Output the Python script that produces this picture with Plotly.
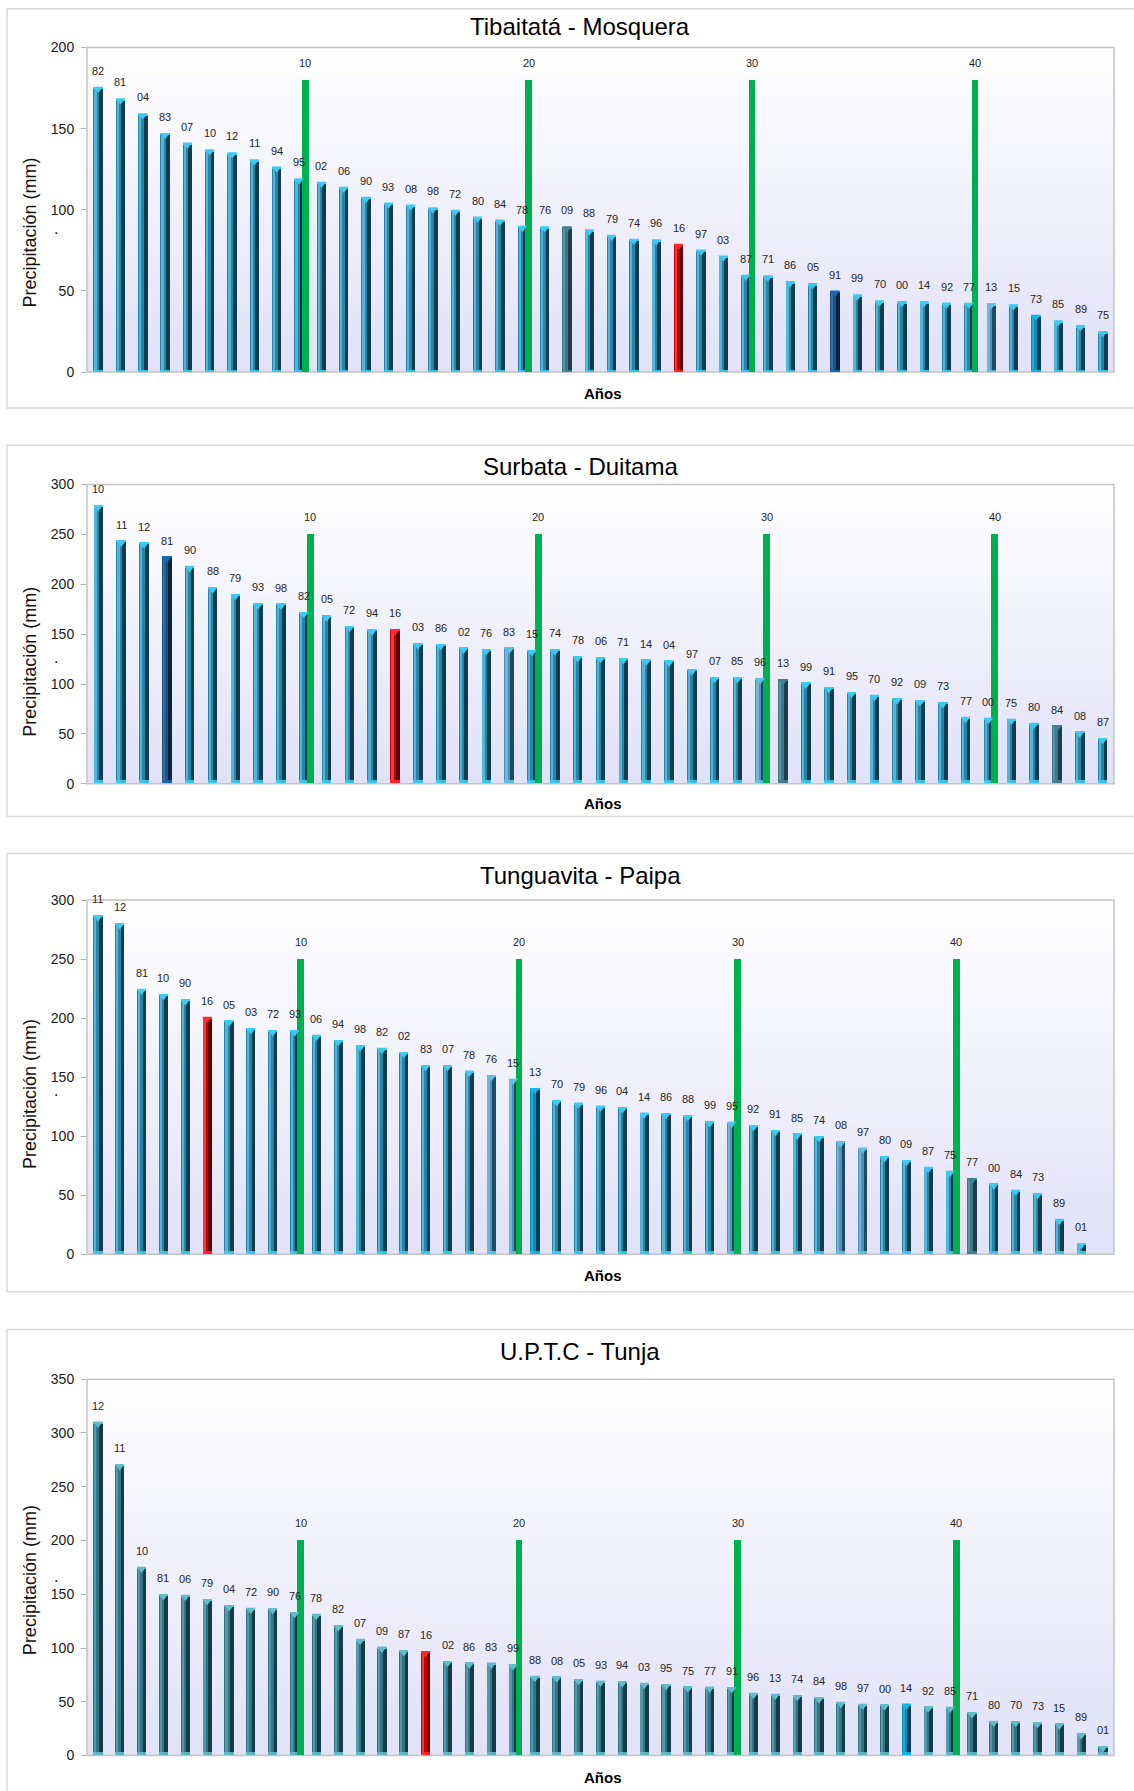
import plotly.graph_objects as go

FIG_W, FIG_H = 1134, 1791

# ---------------- data: years ranked by precipitation (mm) ----------------
tib_years = ["82", "81", "04", "83", "07", "10", "12", "11", "94", "95", "02", "06",
             "90", "93", "08", "98", "72", "80", "84", "78", "76", "09", "88", "79",
             "74", "96", "16", "97", "03", "87", "71", "86", "05", "91", "99", "70",
             "00", "14", "92", "77", "13", "15", "73", "85", "89", "75"]
tib_mm = [175.8, 168.6, 159.4, 147.3, 141.4, 137.2, 135.4, 131.1, 126.6, 119.4,
          117.2, 114.1, 107.9, 104.4, 103.2, 101.5, 99.9, 95.8, 94.0, 90.1,
          89.8, 89.7, 88.0, 84.5, 82.1, 81.8, 79.0, 75.5, 71.8, 59.9,
          59.5, 56.0, 54.8, 50.1, 47.8, 44.1, 43.7, 43.7, 42.8, 42.6,
          42.4, 41.7, 35.3, 31.8, 28.9, 25.2]

sur_years = ["10", "11", "12", "81", "90", "88", "79", "93", "98", "82", "05", "72",
             "94", "16", "03", "86", "02", "76", "83", "15", "74", "78", "06", "71",
             "14", "04", "97", "07", "85", "96", "13", "99", "91", "95", "70", "92",
             "09", "73", "77", "00", "75", "80", "84", "08", "87"]
sur_mm = [279.3, 243.7, 241.7, 227.7, 218.3, 196.7, 190.0, 181.0, 180.3, 172.0,
          168.7, 158.0, 154.7, 154.7, 140.7, 140.0, 136.3, 135.0, 136.3, 134.0,
          134.7, 128.0, 127.0, 125.7, 124.3, 123.3, 114.3, 107.0, 106.7, 106.0,
          105.0, 101.3, 97.0, 92.0, 89.0, 85.7, 83.7, 81.7, 67.0, 66.0,
          65.0, 61.0, 58.3, 52.3, 45.7]

tun_years = ["11", "12", "81", "10", "90", "16", "05", "03", "72", "93", "06", "94",
             "98", "82", "02", "83", "07", "78", "76", "15", "13", "70", "79", "96",
             "04", "14", "86", "88", "99", "95", "92", "91", "85", "74", "08", "97",
             "80", "09", "87", "75", "77", "00", "84", "73", "89", "01"]
tun_mm = [287.0, 280.3, 224.8, 220.3, 215.8, 201.1, 198.0, 191.3, 189.9, 189.6,
          185.9, 181.4, 176.9, 174.9, 171.3, 160.3, 160.2, 155.5, 151.5, 148.5,
          140.8, 130.4, 128.5, 125.9, 124.5, 120.0, 119.7, 118.0, 112.7, 112.1,
          109.3, 105.1, 102.3, 100.0, 95.8, 90.4, 83.1, 79.7, 74.1, 70.7,
          64.5, 60.0, 54.6, 51.8, 30.1, 9.6]

upt_years = ["12", "11", "10", "81", "06", "79", "04", "72", "90", "76", "78", "82",
             "07", "09", "87", "16", "02", "86", "83", "99", "88", "08", "05", "93",
             "94", "03", "95", "75", "77", "91", "96", "13", "74", "84", "98", "97",
             "00", "14", "92", "85", "71", "80", "70", "73", "15", "89", "01"]
upt_mm = [310.4, 270.8, 175.5, 150.1, 149.5, 145.5, 139.6, 137.4, 136.8, 133.4,
          131.8, 121.0, 108.6, 101.2, 97.8, 97.2, 87.9, 86.4, 86.3, 84.8,
          74.0, 73.4, 70.9, 69.6, 69.0, 67.5, 66.2, 64.1, 64.0, 63.4,
          58.2, 57.3, 56.3, 54.2, 49.8, 48.0, 47.4, 48.2, 45.5, 45.2,
          40.2, 32.2, 32.1, 30.9, 29.7, 20.7, 8.7]

# rank markers (every tenth position)
rank_pos = [10, 20, 30, 40]
rank_labels = ["10", "20", "30", "40"]

# ---------------- bar tones ----------------
TONES = {
    "std":    dict(mid="#2585a6", light="#52b6d8", dark="#103c4d", cap="#3ccbf0"),
    "std4":   dict(mid="#307486", light="#5299ab", dark="#143b46", cap="#63bccd"),
    "red":    dict(mid="#c80000", light="#e84040", dark="#600000", cap="#ff2a2a"),
    "navy":   dict(mid="#1d5284", light="#3270a5", dark="#0b2338", cap="#1668b8"),
    "slate":  dict(mid="#3d7888", light="#5895a6", dark="#1c3e48", cap="#428090"),
    "steel":  dict(mid="#4d92b8", light="#72b5d6", dark="#1f4a63", cap="#5fc0e6"),
    "bright": dict(mid="#0a8cb4", light="#20acd6", dark="#003c52", cap="#14b8e8"),
}

# pixel layout of each chart block
panels = [
    dict(title="Tibaitatá - Mosquera", years=tib_years, mm=tib_mm, ymax=200, slots=46,
         mark_h=180, top=39.9, bottom=367.3, box=(0.8, 403.5), title_y=18.5, anos_y=388.7,
         ytitle_y=226.6, base="std",
         tone={"09": "slate", "16": "red", "91": "navy", "13": "steel", "73": "bright"}),
    dict(title="Surbata - Duitama", years=sur_years, mm=sur_mm, ymax=300, slots=45,
         mark_h=250, top=480.7, bottom=782.8, box=(441.1, 815.8), title_y=462.3,
         anos_y=802.7, ytitle_y=659.7, base="std",
         tone={"81": "navy", "16": "red", "83": "steel", "96": "steel", "13": "slate",
               "84": "slate"}),
    dict(title="Tunguavita - Paipa", years=tun_years, mm=tun_mm, ymax=300, slots=47,
         mark_h=250, top=900.1, bottom=1257.6, box=(853.1, 1295.2), title_y=875.2,
         anos_y=1279.1, ytitle_y=1095.8, base="std",
         tone={"16": "red", "76": "steel", "15": "steel", "13": "bright", "95": "steel",
               "08": "steel", "97": "steel", "77": "slate"}),
    dict(title="U.P.T.C - Tunja", years=upt_years, mm=upt_mm, ymax=350, slots=47,
         mark_h=200, top=1383.5, bottom=1763.3, box=(1333.5, 1820), title_y=1355.6,
         anos_y=1785.2, ytitle_y=1586.3, base="std4",
         tone={"16": "red", "14": "bright"}),
]

PLOT_L, PLOT_R = 87, 1114
FONT = "Liberation Sans, Arial, sans-serif"
BAR_W = 0.42
MARK_W = 0.30
MARK_OFF = 0.13


def py(px):
    """pixel row -> paper y"""
    return 1 - px / FIG_H


def px_x(px):
    """pixel column -> paper x"""
    return px / FIG_W


fig = go.Figure()
shapes = []
annotations = []
layout_axes = {}

for k, p in enumerate(panels):
    sfx = "" if k == 0 else str(k + 1)
    xa, ya = "x" + sfx, "y" + sfx
    n = len(p["years"])
    xs = list(range(1, n + 1))
    upp = p["ymax"] / (p["bottom"] - p["top"])  # data units per pixel

    tones = [TONES[p["tone"].get(y, p["base"])] for y in p["years"]]
    mids = [t["mid"] for t in tones]
    lights = [t["light"] for t in tones]
    darks = [t["dark"] for t in tones]
    caps = [t["cap"] for t in tones]

    common = dict(xaxis=xa, yaxis=ya, showlegend=False, hoverinfo="skip")
    # body of each column
    fig.add_trace(go.Bar(x=xs, y=p["mm"], width=BAR_W, marker=dict(color=mids, line_width=0),
                         customdata=p["years"], **common))
    # highlight stripe on the left face
    fig.add_trace(go.Bar(x=xs, y=p["mm"], width=0.08, offset=-0.15,
                         marker=dict(color=lights, line_width=0), **common))
    # shaded right face
    fig.add_trace(go.Bar(x=xs, y=p["mm"], width=0.17, offset=0.04,
                         marker=dict(color=darks, line_width=0), **common))
    # bevelled top
    fig.add_trace(go.Scatter(x=xs, y=[v - 2.0 * upp for v in p["mm"]], mode="markers",
                             marker=dict(symbol="triangle-down", size=8.4, color=caps,
                                         line_width=0), **common))
    fig.add_trace(go.Bar(x=xs, y=[1.5 * upp] * n, base=[v - 1.5 * upp for v in p["mm"]],
                         width=BAR_W, marker=dict(color=caps, line_width=0), **common))
    # bright foot at the base line
    fig.add_trace(go.Bar(x=xs, y=[3 * upp] * n, width=BAR_W,
                         marker=dict(color=caps, line_width=0), opacity=0.9, **common))

    # green rank markers
    fig.add_trace(go.Bar(x=rank_pos, y=[p["mark_h"]] * len(rank_pos), width=MARK_W,
                         offset=MARK_OFF, marker=dict(color="#00b050", line_width=0),
                         **common))

    # value (year) labels
    for x, v, yr in zip(xs, p["mm"], p["years"]):
        annotations.append(dict(x=x, y=v, xref=xa, yref=ya, text=yr, showarrow=False,
                                yshift=16, font=dict(family=FONT, size=11, color="#262626")))
    for x, lab in zip(rank_pos, rank_labels):
        annotations.append(dict(x=x + MARK_OFF + MARK_W / 2, y=p["mark_h"], xref=xa, yref=ya,
                                text=lab, showarrow=False, yshift=17,
                                font=dict(family=FONT, size=11, color="#262626")))

    dom_y = [py(p["bottom"]), py(p["top"])]
    layout_axes["xaxis" + sfx] = dict(
        domain=[px_x(PLOT_L), px_x(PLOT_R)], anchor=ya, range=[0.5, p["slots"] + 0.5],
        showticklabels=False, ticks="", showgrid=False, zeroline=False,
        showline=False, fixedrange=True)
    layout_axes["yaxis" + sfx] = dict(
        domain=dom_y, anchor=xa, range=[0, p["ymax"]], dtick=50, showgrid=False,
        zeroline=False, showline=False, ticks="outside", ticklen=5, tickcolor="#b0b0b0",
        tickwidth=1, ticklabelstandoff=4,
        tickfont=dict(family=FONT, size=14, color="#1a1a1a"), fixedrange=True)

    # plot-area gradient (white at top to lavender at bottom)
    nb = 48
    for b in range(nb):
        t = (b + 0.5) / nb  # 0 bottom -> 1 top
        r = round(225 + (255 - 225) * t)
        g = round(225 + (255 - 225) * t)
        bl = round(248 + (255 - 248) * t)
        shapes.append(dict(type="rect", xref=xa + " domain", yref=ya + " domain",
                           x0=0, x1=1, y0=b / nb, y1=(b + 1) / nb + 0.002,
                           fillcolor=f"rgb({r},{g},{bl})", line_width=0, layer="below"))
    # plot-area frame
    shapes.append(dict(type="rect", xref=xa + " domain", yref=ya + " domain",
                       x0=0, x1=1, y0=0, y1=1, line=dict(color="#c4c4c4", width=1.5),
                       fillcolor="rgba(0,0,0,0)", layer="below"))
    # chart frame
    shapes.append(dict(type="rect", xref="paper", yref="paper",
                       x0=px_x(7), x1=px_x(1180), y0=py(p["box"][1]), y1=py(p["box"][0]),
                       line=dict(color="#d9d9d9", width=1.5), fillcolor="rgba(0,0,0,0)",
                       layer="below"))

    # titles
    annotations.append(dict(x=px_x(580), y=py(p["title_y"]), xref="paper", yref="paper",
                            text=p["title"], showarrow=False, xanchor="center",
                            yanchor="middle", font=dict(family=FONT, size=24, color="#000")))
    annotations.append(dict(x=px_x(603), y=py(p["anos_y"]), xref="paper", yref="paper",
                            text="<b>Años</b>", showarrow=False, xanchor="center",
                            yanchor="middle", font=dict(family=FONT, size=15, color="#000")))
    annotations.append(dict(x=px_x(30), y=py(p["ytitle_y"]), xref="paper", yref="paper",
                            text="Precipitación (mm)", showarrow=False, textangle=-90,
                            xanchor="center", yanchor="middle",
                            font=dict(family=FONT, size=18, color="#111")))
    annotations.append(dict(x=px_x(56), y=py(p["ytitle_y"] - 4), xref="paper", yref="paper",
                            text=".", showarrow=False, xanchor="center", yanchor="middle",
                            font=dict(family=FONT, size=16, color="#111")))

fig.update_layout(
    width=FIG_W, height=FIG_H, margin=dict(l=0, r=0, t=0, b=0),
    paper_bgcolor="white", plot_bgcolor="white", barmode="overlay", bargap=0,
    shapes=shapes, annotations=annotations, showlegend=False,
    font=dict(family=FONT), **layout_axes)

fig.write_html("out.html", config={"displayModeBar": False})
